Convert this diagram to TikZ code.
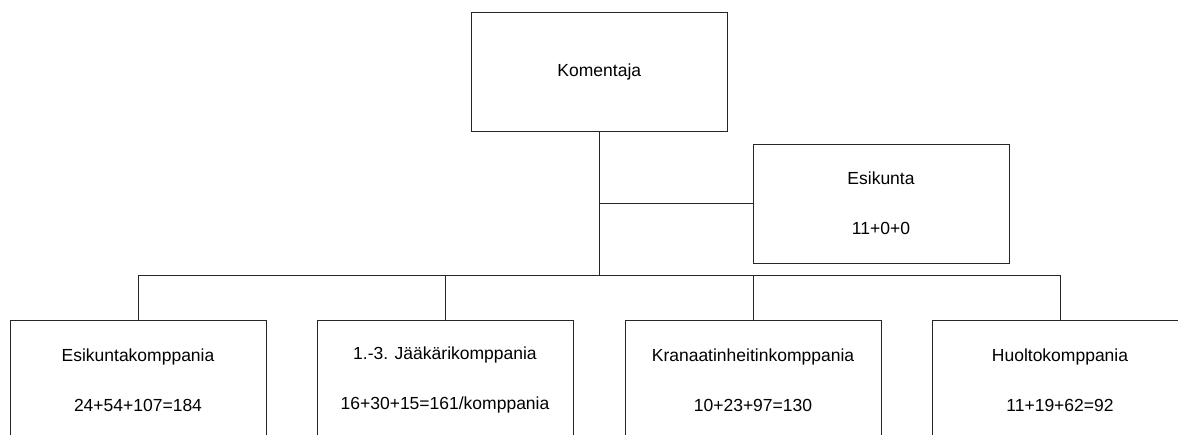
\documentclass[tikz,border=0pt]{standalone}
\usepackage{fontspec}
\setmainfont{Liberation Sans}
\begin{document}
\begin{tikzpicture}[x=1pt,y=-1pt,
  box/.style={draw=black!85, line width=1pt, minimum width=256pt, minimum height=119pt,
    inner sep=0pt, align=center, font=\fontsize{17.5}{50}\selectfont},
  conn/.style={draw=black!85, line width=1pt}]
\useasboundingbox (0,0) rectangle (1178,434);
\clip (0,0) rectangle (1178,434);
\fill[white] (0,0) rectangle (1178,434);
\node[box] (kom) at (599.3,72.3) {Komentaja};
\node[box] (esi) at (881,203.7) {Esikunta\\11+0+0};
\node[box] (b1) at (138,380.2) {Esikuntakomppania\\24+54+107=184};
\node[box] (b2) at (445,380.2) {1.-3. Jääkärikomppania\\16+30+15=161/komppania};
\node[box] (b3) at (753,380.2) {Kranaatinheitinkomppania\\10+23+97=130};
\node[box] (b4) at (1060,380.2) {Huoltokomppania\\11+19+62=92};
\coordinate (bus) at (599.3,275.3);
\draw[conn] (kom.south) -- (kom.south |- bus);
\draw[conn] (kom.south |- esi.west) -- (esi.west);
\draw[conn] (b1.north |- bus) -- (b4.north |- bus);
\draw[conn] (b1.north |- bus) -- (b1.north);
\draw[conn] (b2.north |- bus) -- (b2.north);
\draw[conn] (b3.north |- bus) -- (b3.north);
\draw[conn] (b4.north |- bus) -- (b4.north);
\end{tikzpicture}
\end{document}
